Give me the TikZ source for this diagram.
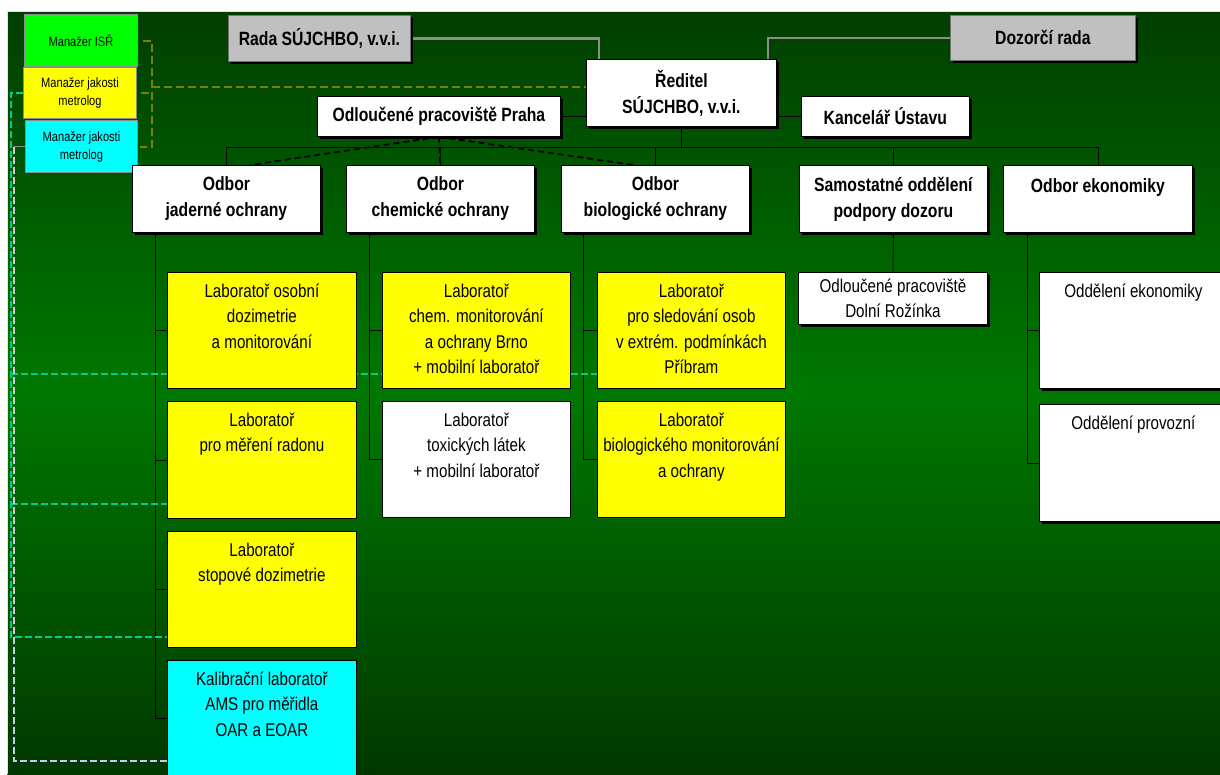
\documentclass[tikz,border=0pt]{standalone}
\usepackage{fontspec}
\setmainfont{Liberation Sans}[FakeStretch=0.82]
\usetikzlibrary{shadows}
\definecolor{olivedash}{RGB}{128,128,0}
\definecolor{tealdash}{RGB}{0,204,153}
\definecolor{lavdash}{RGB}{200,200,240}
\definecolor{topgreen}{RGB}{0,62,0}
\definecolor{midgreen}{RGB}{0,120,0}
\definecolor{botgreen}{RGB}{0,56,0}
\definecolor{boxgray}{RGB}{192,192,192}
\definecolor{labyellow}{RGB}{255,255,0}
\definecolor{labcyan}{RGB}{0,255,255}
\definecolor{isrgreen}{RGB}{0,255,0}
\pgfdeclarelayer{back}
\pgfdeclarelayer{lines}
\pgfsetlayers{back,lines,main}
\newcommand{\boxtxt}[3]{\parbox[c][#2][t]{#1}{\centering\rule{0pt}{25pt}#3}}
\tikzset{
  shad/.style={drop shadow={shadow xshift=3pt,shadow yshift=-3pt,opacity=1,fill=black}},
  head/.style={draw=black,fill=white,line width=0.8pt,shad,anchor=north west,align=center,
    inner sep=0pt,font=\fontsize{19.2}{26}\selectfont\bfseries},
  board/.style={head,fill=boxgray,draw=black!55},
  lab/.style={draw=black,line width=0.8pt,anchor=north west,inner sep=0pt,
    font=\fontsize{18.5}{25.5}\selectfont},
  mgr/.style={draw=black!45,line width=1pt,anchor=north west,align=center,inner sep=0pt,
    font=\fontsize{13.5}{18}\selectfont},
  tie/.style={black,line width=0.8pt},
  gline/.style={black!45,line width=2.5pt},
  pline/.style={black,line width=1.8pt,dash pattern=on 6pt off 4pt},
  qline/.style={olivedash,line width=2pt,dash pattern=on 8pt off 4pt},
  tline/.style={tealdash,line width=2pt,dash pattern=on 7pt off 3pt},
  vline/.style={lavdash,line width=2pt,dash pattern=on 7pt off 3pt},
}
\begin{document}
\begin{tikzpicture}[x=1pt,y=-1pt]
    \useasboundingbox (0,0) rectangle (1220,774);
    %manazeri
    \node[mgr,fill=isrgreen,minimum width=113pt,minimum height=52pt] (misr) at (24,14) {Manažer ISŘ};
    \node[mgr,fill=labyellow,minimum width=113pt,minimum height=51pt] (mjak1) at (23,67) {Manažer jakosti\\metrolog};
    \node[mgr,fill=labcyan,minimum width=112pt,minimum height=52pt] (mjak2) at (25,120) {Manažer jakosti\\metrolog};
    %rady a reditel
    \node[board,minimum width=182pt,minimum height=46pt] (rada) at (228,15) {Rada SÚJCHBO, v.v.i.};
    \node[board,minimum width=185pt,minimum height=45pt] (dozor) at (950,15) {Dozorčí rada};
    \node[head,minimum width=190pt,minimum height=67pt] (reditel) at (586,59) {Ředitel\\SÚJCHBO, v.v.i.};
    \node[head,minimum width=243pt,minimum height=40pt] (praha) at (317,96) {Odloučené pracoviště Praha};
    \node[head,minimum width=168pt,minimum height=40pt] (kancelar) at (801,96) {Kancelář Ústavu};
    %%%%%%%%%%%%%%%%%%%%%%%%%%%%%%%%%%%%%%%%%%%%%%%%%%%%%%%%%%%%%%%%%%%%%%%%%%
    %odbory
    \node[head,minimum width=188pt,minimum height=67pt] (jad) at (132,165) {Odbor\\jaderné ochrany};
    \node[head,minimum width=188pt,minimum height=67pt] (chem) at (346,165) {Odbor\\chemické ochrany};
    \node[head,minimum width=188pt,minimum height=67pt] (bio) at (561,165) {Odbor\\biologické ochrany};
    \node[head,minimum width=188pt,minimum height=67pt] (sam) at (799,165) {Samostatné oddělení\\podpory dozoru};
    \node[head,minimum width=189pt,minimum height=67pt] (eko) at (1003,165) {Odbor ekonomiky\\\mbox{}};
    %%%%%%%%%%%%%%%%%%%%%%%%%%%%%%%%%%%%%%%%%%%%%%%%%%%%%%%%%%%%%%%%%%%%%%%%%%
    %laboratore jaderne ochrany
    \node[lab,fill=labyellow] (lab11) at (167,272) {\boxtxt{189pt}{116pt}{Laboratoř osobní\\dozimetrie\\a monitorování}};
    \node[lab,fill=labyellow] (lab12) at (167,401) {\boxtxt{189pt}{117pt}{Laboratoř\\pro měření radonu}};
    \node[lab,fill=labyellow] (lab13) at (167,531) {\boxtxt{189pt}{116pt}{Laboratoř\\stopové dozimetrie}};
    \node[lab,fill=labcyan] (lab14) at (167,660) {\boxtxt{189pt}{116pt}{Kalibrační laboratoř\\AMS pro měřidla\\OAR a EOAR}};
    %laboratore chemicke ochrany
    \node[lab,fill=labyellow] (lab21) at (382,272) {\boxtxt{188pt}{116pt}{Laboratoř\\chem. monitorování\\a ochrany Brno\\+ mobilní laboratoř}};
    \node[lab,fill=white] (lab22) at (382,401) {\boxtxt{188pt}{116pt}{Laboratoř\\toxických látek\\+ mobilní laboratoř}};
    %laboratore biologicke ochrany
    \node[lab,fill=labyellow] (lab31) at (597,272) {\boxtxt{188pt}{116pt}{Laboratoř\\pro sledování osob\\v extrém. podmínkách\\Příbram}};
    \node[lab,fill=labyellow] (lab32) at (597,401) {\boxtxt{188pt}{116pt}{Laboratoř\\biologického monitorování\\a ochrany}};
    %dozor a ekonomika
    \node[head,font=\fontsize{18.5}{25}\selectfont,minimum width=189pt,minimum height=52pt] (rozinka) at (798,272) {Odloučené pracoviště\\Dolní Rožínka};
    \node[lab,fill=white,shad] (eko1) at (1039,272) {\boxtxt{188pt}{116pt}{Oddělení ekonomiky}};
    \node[lab,fill=white,shad] (eko2) at (1039,404) {\boxtxt{188pt}{117pt}{Oddělení provozní}};
    %%%%%%%%%%%%%%%%%%%%%%%%%%%%%%%%%%%%%%%%%%%%%%%%%%%%%%%%%%%%%%%%%%%%%%%%%%
    \begin{pgfonlayer}{lines}
    %spoje vedeni
    \draw[gline] (rada.east) -| ([xshift=13pt]reditel.north west);
    \draw[gline] (dozor.west) -| ([xshift=-9pt]reditel.north east);
    \draw[tie] (praha.east) -- (praha.east -| reditel.west);
    \draw[tie] (kancelar.west) -- (kancelar.west -| reditel.east);
    \coordinate (bus) at (0,147);
    \draw[tie] (reditel.south) -- (reditel.south |- bus);
    \draw[tie] (jad.north) -- (jad.north |- bus) -- (eko.north |- bus) -- (eko.north);
    \foreach \n in {chem,bio,sam} \draw[tie] (\n.north) -- (\n.north |- bus);
    %praha k odborum
    \draw[pline] (praha.south) -- ([xshift=24pt]jad.north);
    \draw[pline] (praha.south) -- (chem.north);
    \draw[pline] (praha.south) -- ([xshift=-22pt]bio.north);
    %spoje k laboratorim
    \coordinate (c1) at ([xshift=23pt]jad.south west);
    \draw[tie] (c1) |- (lab14.west);
    \foreach \n in {lab11,lab12,lab13} \draw[tie] (\n.west) -- (\n.west -| c1);
    \coordinate (c2) at ([xshift=23pt]chem.south west);
    \draw[tie] (c2) |- (lab22.west);
    \draw[tie] (lab21.west) -- (lab21.west -| c2);
    \coordinate (c3) at ([xshift=22pt]bio.south west);
    \draw[tie] (c3) |- (lab32.west);
    \draw[tie] (lab31.west) -- (lab31.west -| c3);
    \draw[tie] (sam.south) -- (rozinka.north);
    \coordinate (c5) at ([xshift=24pt]eko.south west);
    \draw[tie] (c5) |- (eko2.west);
    \draw[tie] (eko1.west) -- (eko1.west -| c5);
    %%%%%%%%%%%%%%%%%%%%%%%%%%%%%%%%%%%%%%%%%%%%%%%%%%%%%%%%%%%%%%%%%%%%%%%%%%
    %manazer ISR
    \coordinate (qv) at (152,0);
    \coordinate (rq) at ([yshift=6pt]reditel.west);
    \draw[qline] ([xshift=5pt]misr.east) -| (qv |- mjak2.east) -- ([xshift=2pt]mjak2.east);
    \draw[qline] ([xshift=4pt]mjak1.east) -- (mjak1.east -| qv);
    \draw[qline] (qv |- rq) -- (rq);
    %manazer jakosti (zluty)
    \coordinate (tv) at (11,0);
    \coordinate (t1) at ([yshift=15pt]lab31.south west);
    \coordinate (t2) at ([yshift=15pt]lab12.south west);
    \coordinate (t3) at ([yshift=11pt]lab13.south west);
    \draw[tline] (mjak1.west) -| (tv |- t3) -- (t3);
    \draw[tline] (tv |- t1) -- (t1);
    \draw[tline] (tv |- t2) -- (t2);
    %manazer jakosti (modry)
    \coordinate (lv) at (14,0);
    \coordinate (l4) at ([yshift=-101pt]lab14.north west);
    \draw[black!45,line width=1pt] (mjak2.west) -- (mjak2.west -| lv);
    \draw[vline] (mjak2.west -| lv) -- (lv |- l4) -- (l4);
    \end{pgfonlayer}
    %pozadi
    \begin{pgfonlayer}{back}
    \fill[white] (0,0) rectangle (1220,774);
    \shade[top color=topgreen,bottom color=botgreen,middle color=midgreen] (7,11) rectangle (1220,774);
    \draw[lavdash!60!white,line width=1pt] (7,774) -- (7,11) -- (1220,11);
    \end{pgfonlayer}
\end{tikzpicture}
\end{document}
